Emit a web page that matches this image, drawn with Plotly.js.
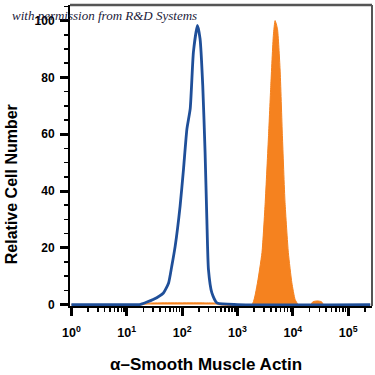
<!DOCTYPE html>
<html>
<head>
<meta charset="utf-8">
<script src="https://cdn.plot.ly/plotly-3.0.1.min.js"></script>
<style>html,body{margin:0;padding:0;background:#fff;}#chart{width:375px;height:375px;}</style>
</head>
<body>
<div id="chart"></div>
<script>
// Control (open blue histogram)
var controlX = [1, 10, 17, 30, 46, 57, 65, 75, 92, 106, 122, 140, 160, 189, 211, 236, 260, 280, 299, 345, 425, 1000, 250000];
var controlY = [0, 0, 0, 1.8, 4.1, 7.6, 13.5, 20.6, 34.7, 47.7, 61.8, 68.9, 88.9, 98.3, 93.6, 77.1, 53.6, 30, 12.4, 4.1, 0.6, 0, 0];
// Stained sample (filled orange histogram)
var stainX = [1, 20, 25, 40, 100, 250, 400, 450, 1820, 2240, 2770, 3170, 3640, 4000, 4450, 4780, 5270, 5880, 6480, 7230, 8300, 9600, 11000, 12600, 21000, 23000, 28000, 33000, 36000, 250000];
var stainY = [0, 0, 0.5, 0.6, 0.6, 0.6, 0.5, 0, 0, 6.5, 18.3, 36, 59.5, 77.1, 94.8, 100, 97.2, 83, 59.5, 36, 18.3, 7.7, 1.8, 0, 0, 1.0, 1.3, 1.0, 0, 0];
// Axis ticks
var xTickVals = [1, 10, 100, 1000, 10000, 100000];
var xTickText = ['10<sup>0</sup>', '10<sup>1</sup>', '10<sup>2</sup>', '10<sup>3</sup>', '10<sup>4</sup>', '10<sup>5</sup>'];
var yTickVals = [0, 20, 40, 60, 80, 100];

var minorX = [];
for (var d = 0; d < 6; d++) { for (var k = 2; k <= 9; k++) { minorX.push(k * Math.pow(10, d)); } }

var traces = [
  {x: stainX, y: stainY, type: 'scatter', mode: 'lines', fill: 'tozeroy',
   fillcolor: '#f5821f', line: {color: '#f5821f', width: 1, shape: 'spline', smoothing: 0.5}, hoverinfo: 'skip'},
  {x: controlX, y: controlY, type: 'scatter', mode: 'lines',
   line: {color: '#1f4f99', width: 2.8, shape: 'spline', smoothing: 0.5}, hoverinfo: 'skip'}
];

var layout = {
  width: 375, height: 375,
  margin: {l: 70, r: 3, t: 5, b: 69},
  showlegend: false,
  paper_bgcolor: '#fff', plot_bgcolor: '#fff',
  font: {family: 'Liberation Sans, Arial, sans-serif', color: '#000'},
  xaxis: {
    type: 'log', range: [-0.025, 5.43], tickmode: 'array', tickvals: xTickVals, ticktext: xTickText,
    ticks: 'outside', ticklen: 8, tickwidth: 3, tickcolor: '#000',
    showline: true, linecolor: '#000', linewidth: 2, showgrid: false, zeroline: false,
    tickfont: {size: 12.5, family: 'Liberation Sans, Arial, sans-serif', weight: 'bold'},
    ticklabelstandoff: 6,
    minor: {tickmode: 'array', tickvals: minorX, ticks: 'outside', ticklen: 4, tickwidth: 1.5, tickcolor: '#000', showgrid: false}
  },
  yaxis: {
    range: [-0.5, 105.5], tickmode: 'array', tickvals: yTickVals,
    ticks: 'outside', ticklen: 8, tickwidth: 3, tickcolor: '#000',
    showline: true, linecolor: '#000', linewidth: 2, showgrid: false, zeroline: false,
    tickfont: {size: 12, family: 'Liberation Sans, Arial, sans-serif', weight: 'bold'},
    ticklabelstandoff: 3,
    minor: {dtick: 5, ticks: 'outside', ticklen: 4, tickwidth: 1.5, tickcolor: '#000', showgrid: false}
  },
  shapes: [
    {type: 'line', xref: 'paper', yref: 'paper', x0: 0, x1: 1, y0: 1, y1: 1, line: {color: '#555', width: 2.5}},
    {type: 'line', xref: 'paper', yref: 'paper', x0: 1, x1: 1, y0: 0, y1: 1, line: {color: '#555', width: 2}}
  ],
  annotations: [
    {text: 'Relative Cell Number', xref: 'paper', yref: 'paper', x: -0.195, y: 0.405, textangle: -90,
     showarrow: false, xanchor: 'center', yanchor: 'middle',
     font: {size: 16, family: 'Liberation Sans, Arial, sans-serif', weight: 'bold', color: '#000'}},
    {text: 'α–Smooth Muscle Actin', xref: 'paper', yref: 'paper', x: 0.45, y: -0.193,
     showarrow: false, xanchor: 'center', yanchor: 'middle',
     font: {size: 17, family: 'Liberation Sans, Arial, sans-serif', weight: 'bold', color: '#000'}},
    {text: '<i>with permission from R&amp;D Systems</i>', xref: 'paper', yref: 'paper', x: -0.199, y: 0.965,
     showarrow: false, xanchor: 'left', yanchor: 'middle',
     font: {size: 13, family: 'Liberation Serif, DejaVu Serif, serif', color: '#1a1a3a'}}
  ]
};

Plotly.newPlot('chart', traces, layout, {staticPlot: true, displayModeBar: false});
</script>
</body>
</html>
